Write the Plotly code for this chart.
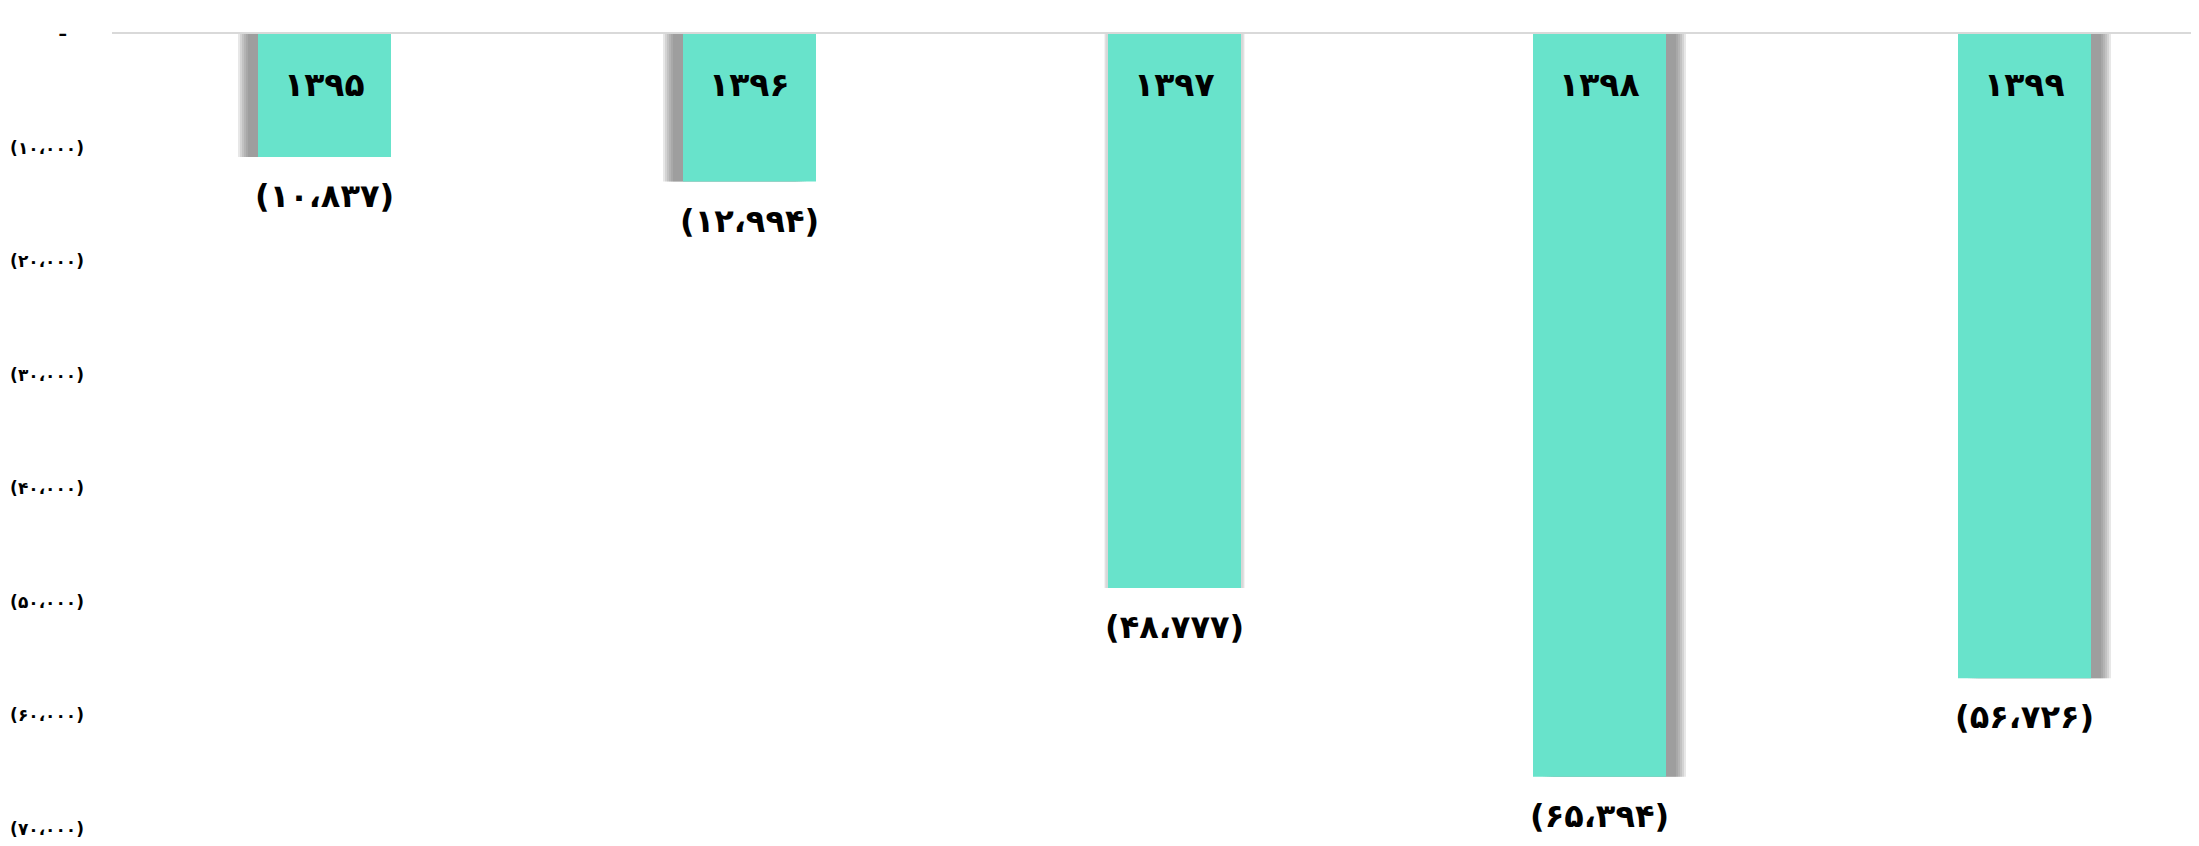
import plotly.graph_objects as go

# ---- data ----
years = ["۱۳۹۵", "۱۳۹۶", "۱۳۹۷", "۱۳۹۸", "۱۳۹۹"]
values = [-10837, -12994, -48777, -65394, -56726]
tick_values = [0, -10000, -20000, -30000, -40000, -50000, -60000, -70000]

# ---- style ----
BAR_COLOR = "#68E3CB"
SLOT_PX = 425.0            # pixels per category slot
BAR_W = 133 / SLOT_PX      # bar width in category units
shadow_dir = [-1, -1, 0, 1, 1]   # side of the drop shadow

FA = str.maketrans("0123456789", "۰۱۲۳۴۵۶۷۸۹")


def fa_paren(v):
    s = f"{abs(int(v)):,}".replace(",", "،").translate(FA)
    return f"({s})"


tick_text = ["–\u2002\u2002" if t == 0 else fa_paren(t) for t in tick_values]

x_idx = list(range(len(years)))
fig = go.Figure()

# shadow layers (drawn behind), soft edge built from stacked translucent bars
layers = [20, 18, 16, 14, 12, 10]
for shift_px in layers:
    offs, wids, cols = [], [], []
    for d in shadow_dir:
        if d == 0:
            s = (shift_px / 20) * 4 / SLOT_PX
            offs.append(-BAR_W / 2 - s)
            wids.append(BAR_W + 2 * s)
            cols.append("rgba(120,120,120,0.05)")
        else:
            s = shift_px / SLOT_PX
            offs.append(-BAR_W / 2 + d * s)
            wids.append(BAR_W)
            cols.append("rgba(110,110,110,0.17)")
    fig.add_trace(go.Bar(x=x_idx, y=values, offset=offs, width=wids,
                         marker=dict(color=cols, line=dict(width=0)),
                         hoverinfo="skip", showlegend=False))

fig.add_trace(go.Bar(x=x_idx, y=values, offset=-BAR_W / 2, width=BAR_W,
                     marker=dict(color=BAR_COLOR, line=dict(width=0)),
                     showlegend=False))

font_fam = "DejaVu Sans"
for i, (yr, v) in enumerate(zip(years, values)):
    fig.add_annotation(x=i, y=0, text=f"<b>{yr}</b>", showarrow=False,
                       yshift=-50, yanchor="middle",
                       font=dict(family=font_fam, size=33, color="black"))
    fig.add_annotation(x=i, y=v, text=f"<b>{fa_paren(v)}</b>", showarrow=False,
                       yshift=-39, yanchor="middle",
                       font=dict(family=font_fam, size=32, color="black"))

# page body has an 8px margin, so the figure is sized to fit the window
fig.update_layout(
    width=2191, height=838,
    margin=dict(l=104, r=0, t=26, b=17),
    paper_bgcolor="white", plot_bgcolor="white",
    barmode="overlay",
    xaxis=dict(range=[-0.5, -0.5 + 2087 / SLOT_PX], side="top",
               showticklabels=False, ticks="", showgrid=False, zeroline=False,
               showline=True, linecolor="#d9d9d9", linewidth=2),
    yaxis=dict(range=[-70000, 0], tickvals=tick_values, ticktext=tick_text,
               showgrid=False, zeroline=False, showline=False, ticks="",
               ticklabelstandoff=27,
               tickfont=dict(family=font_fam, size=17, color="black", weight="bold")),
)

fig.write_html("out.html")
